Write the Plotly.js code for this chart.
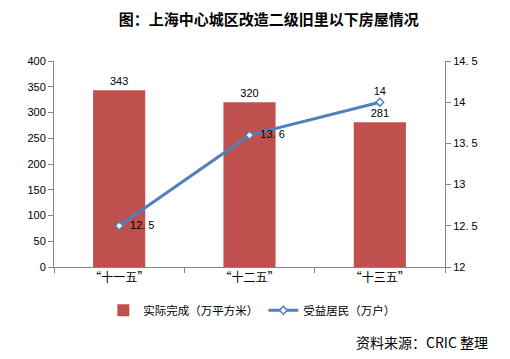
<!DOCTYPE html>
<html><head><meta charset="utf-8">
<script src="https://cdn.plot.ly/plotly-3.0.1.min.js"></script>
<style>body{margin:0;background:#fff}#c{width:510px;height:359px}</style>
</head><body><div id="c"></div>
<script>
const categories = ["“十一五”", "“十二五”", "“十三五”"];
const areaDone = [343, 320, 281];
const residents = [12.5, 13.6, 14];
const residentLabels = ["\u00a0\u00a012. 5", "\u00a0\u00a013. 6", "14"];
const rightTickVals = [12, 12.5, 13, 13.5, 14, 14.5];
const rightTickText = ["12", "12. 5", "13", "13. 5", "14", "14. 5"];

const fontFam = 'Liberation Sans, Arial, "Noto Sans CJK SC", sans-serif';
const cjk = '"Noto Sans CJK SC", sans-serif';

const traces = [
  {type: 'bar', x: categories, y: areaDone, name: '实际完成（万平方米）',
   marker: {color: '#C0504D'}, text: areaDone.map(String), textposition: 'outside',
   textfont: {family: fontFam, size: 11, color: '#000'}, cliponaxis: false, hoverinfo: 'none'},
  {type: 'scatter', mode: 'lines+markers+text', x: categories, y: residents, yaxis: 'y2',
   name: '受益居民（万户）', line: {color: '#4F81BD', width: 3},
   marker: {symbol: 'diamond', size: 6, color: '#fff', line: {color: '#4F81BD', width: 1.5}},
   text: residentLabels, textposition: ['middle right', 'middle right', 'top center'],
   textfont: {family: fontFam, size: 11, color: '#000'}, cliponaxis: false, hoverinfo: 'none'}
];

const layout = {
  width: 510, height: 359,
  margin: {l: 54, r: 65, t: 61, b: 92},
  paper_bgcolor: '#fff', plot_bgcolor: '#fff',
  showlegend: true,
  title: {text: '<b>图：上海中心城区改造二级旧里以下房屋情况</b>', x: 0.527, xanchor: 'center', y: 0.945, yanchor: 'middle',
          font: {family: cjk, size: 15, color: '#000'}},
  bargap: 0.6,
  xaxis: {type: 'category', showline: true, linecolor: '#868686', linewidth: 1, ticks: 'outside',
          tickson: 'boundaries', ticklen: 5, tickcolor: '#868686', showgrid: false,
          tickfont: {family: cjk, size: 12, color: '#000'}, fixedrange: true},
  yaxis: {range: [0, 400], dtick: 50, showline: true, linecolor: '#868686', ticks: 'outside',
          ticklen: 5, tickcolor: '#868686', showgrid: false, zeroline: false,
          tickfont: {family: fontFam, size: 11, color: '#000'}},
  yaxis2: {range: [12, 14.5], overlaying: 'y', side: 'right', tickvals: rightTickVals, ticktext: rightTickText,
           showline: true, linecolor: '#868686', ticks: 'outside', ticklen: 5, tickcolor: '#868686',
           showgrid: false, zeroline: false, tickfont: {family: fontFam, size: 11, color: '#000'}},
  legend: {orientation: 'h', x: 0.506, xanchor: 'center', y: -0.21, yanchor: 'middle',
           font: {family: cjk, size: 11.5, color: '#000'}, itemwidth: 30, traceorder: 'normal'},
  annotations: [{text: '资料来源：CRIC 整理', xref: 'paper', yref: 'paper', x: 1.115, xanchor: 'right',
                 y: -0.365, yanchor: 'middle', showarrow: false, font: {family: cjk, size: 14, color: '#000'}}]
};
Plotly.newPlot('c', traces, layout, {displayModeBar: false, staticPlot: true});
</script></body></html>
